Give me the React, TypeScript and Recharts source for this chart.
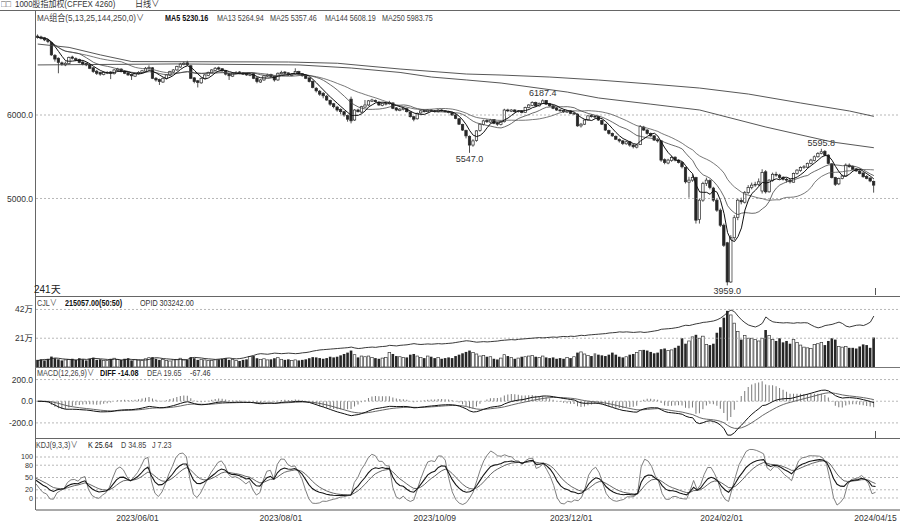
import React from 'react';
import { ComposedChart, Bar, Line, XAxis, YAxis, ReferenceLine } from 'recharts';

const FONT = '"Liberation Sans", "Noto Sans CJK SC", "DejaVu Sans", sans-serif';

// ---- daily candles (241 days) ----
const opens = [
  6945, 6935, 6925, 6895, 6870, 6715, 6680, 6625, 6600, 6615,
  6695, 6675, 6665, 6635, 6620, 6600, 6565, 6525, 6510, 6485,
  6505, 6515, 6495, 6535, 6550, 6525, 6505, 6485, 6465, 6495,
  6510, 6525, 6555, 6565, 6440, 6425, 6395, 6435, 6475, 6515,
  6540, 6575, 6605, 6625, 6590, 6445, 6410, 6385, 6440, 6475,
  6505, 6535, 6565, 6555, 6530, 6495, 6465, 6495, 6515, 6505,
  6495, 6475, 6495, 6445, 6395, 6420, 6465, 6485, 6465, 6420,
  6495, 6515, 6505, 6475, 6490, 6520, 6495, 6475, 6445, 6405,
  6320, 6285, 6260, 6225, 6175, 6135, 6095, 6065, 6040, 5995,
  6190, 5940, 6060, 6035, 6095, 6120, 6165, 6175, 6155, 6115,
  6130, 6135, 6145, 6085, 6055, 6065, 6075, 6035, 5980, 5955,
  6025, 6055, 6040, 6060, 6050, 6040, 6060, 6050, 6040, 6030,
  6000, 5955, 5885, 5815, 5745, 5640, 5695, 5815, 5885, 5935,
  5915, 5945, 5905, 5885, 5920, 6060, 6045, 6060, 6040, 6050,
  6030, 6090, 6115, 6150, 6110, 6140, 6175, 6135, 6110, 6085,
  6060, 6055, 6035, 6050, 6015, 6010, 5870, 5890, 5940, 5995,
  5985, 5985, 5935, 5890, 5815, 5780, 5745, 5705, 5690, 5655,
  5680, 5640, 5615, 5645, 5855, 5820, 5780, 5750, 5700, 5690,
  5465, 5425, 5455, 5495, 5460, 5430, 5370, 5195, 5220, 5250,
  4750, 4980, 5180, 5215, 5125, 4980, 4860, 4680, 4470, 4000,
  4530, 4775, 4975, 4955, 5070, 5130, 5165, 5170, 5090, 5320,
  5080, 5215, 5290, 5280, 5250, 5230, 5220, 5195, 5300, 5335,
  5370, 5375, 5420, 5455, 5500, 5540, 5565, 5520, 5415, 5250,
  5175, 5240, 5270, 5400, 5385, 5355, 5330, 5305, 5265, 5245,
  5205,
];
const highs = [
  6965, 6950, 6935, 6910, 6880, 6730, 6690, 6640, 6640, 6700,
  6710, 6690, 6675, 6645, 6630, 6610, 6575, 6540, 6520, 6525,
  6525, 6525, 6550, 6565, 6560, 6535, 6515, 6495, 6510, 6525,
  6540, 6575, 6595, 6575, 6455, 6435, 6450, 6490, 6530, 6550,
  6590, 6625, 6640, 6650, 6600, 6455, 6420, 6450, 6490, 6520,
  6550, 6575, 6580, 6560, 6535, 6500, 6510, 6525, 6525, 6515,
  6505, 6500, 6505, 6450, 6430, 6480, 6495, 6495, 6470, 6510,
  6530, 6525, 6510, 6500, 6560, 6530, 6500, 6480, 6450, 6410,
  6335, 6300, 6275, 6240, 6185, 6145, 6110, 6080, 6050, 6005,
  6220, 6070, 6075, 6110, 6180, 6180, 6195, 6185, 6165, 6150,
  6155, 6170, 6150, 6095, 6085, 6095, 6085, 6045, 5990, 6030,
  6060, 6065, 6070, 6070, 6060, 6070, 6070, 6060, 6050, 6040,
  6010, 5965, 5895, 5825, 5755, 5710, 5820, 5900, 5945, 5950,
  5955, 5950, 5915, 5930, 6075, 6075, 6070, 6070, 6060, 6060,
  6100, 6130, 6165, 6160, 6150, 6187.4, 6180, 6145, 6120, 6095,
  6075, 6065, 6060, 6060, 6035, 6020, 5905, 5950, 6000, 6010,
  6000, 5990, 5945, 5895, 5825, 5790, 5755, 5720, 5700, 5695,
  5690, 5655, 5655, 5880, 5870, 5830, 5790, 5760, 5720, 5700,
  5480, 5475, 5510, 5505, 5470, 5440, 5380, 5260, 5290, 5260,
  5000, 5200, 5250, 5230, 5140, 5000, 4880, 4700, 4480, 4560,
  4800, 5000, 5010, 5090, 5160, 5190, 5200, 5240, 5350, 5340,
  5230, 5310, 5320, 5295, 5265, 5245, 5235, 5310, 5350, 5385,
  5400, 5430, 5475, 5515, 5555, 5595.8, 5580, 5530, 5425, 5260,
  5250, 5285, 5420, 5420, 5395, 5365, 5340, 5315, 5280, 5255,
  5215,
];
const lows = [
  6915, 6905, 6885, 6860, 6710, 6640, 6500, 6590, 6585, 6605,
  6665, 6645, 6620, 6595, 6585, 6550, 6505, 6480, 6470, 6475,
  6490, 6430, 6485, 6525, 6510, 6490, 6470, 6420, 6455, 6485,
  6500, 6515, 6545, 6430, 6400, 6360, 6385, 6425, 6465, 6505,
  6530, 6565, 6595, 6590, 6430, 6380, 6330, 6375, 6430, 6465,
  6500, 6530, 6540, 6520, 6475, 6420, 6455, 6490, 6490, 6480,
  6470, 6465, 6430, 6380, 6385, 6410, 6455, 6450, 6400, 6410,
  6485, 6490, 6470, 6465, 6480, 6480, 6460, 6430, 6390, 6320,
  6270, 6230, 6200, 6170, 6110, 6080, 6040, 6010, 5980, 5920,
  5900, 5930, 6030, 6025, 6085, 6110, 6155, 6150, 6110, 6105,
  6115, 6125, 6070, 6045, 6045, 6055, 6030, 5970, 5925, 5945,
  6015, 6030, 6030, 6040, 6030, 6030, 6040, 6030, 6020, 5990,
  5950, 5880, 5810, 5720, 5547, 5620, 5680, 5800, 5875, 5905,
  5900, 5890, 5870, 5875, 5910, 6035, 6035, 6030, 6030, 6020,
  6025, 6080, 6105, 6100, 6100, 6135, 6120, 6100, 6070, 6050,
  6040, 6025, 6025, 6010, 6000, 5860, 5850, 5880, 5935, 5970,
  5960, 5930, 5880, 5810, 5765, 5740, 5700, 5670, 5640, 5645,
  5620, 5600, 5600, 5640, 5810, 5765, 5740, 5690, 5670, 5440,
  5410, 5410, 5440, 5445, 5420, 5360, 5180, 5010, 5200, 4700,
  4700, 4960, 5150, 5110, 4960, 4840, 4660, 4420, 3959, 3990,
  4500, 4740, 4930, 4940, 5050, 5110, 5140, 5150, 5060, 5060,
  5070, 5200, 5260, 5230, 5215, 5190, 5180, 5190, 5285, 5320,
  5355, 5365, 5410, 5445, 5490, 5530, 5505, 5410, 5240, 5150,
  5160, 5230, 5265, 5370, 5340, 5320, 5290, 5250, 5230, 5195,
  5070,
];
const closes = [
  6930, 6920, 6900, 6880, 6720, 6670, 6630, 6610, 6620, 6690,
  6680, 6660, 6630, 6610, 6600, 6560, 6520, 6500, 6490, 6510,
  6510, 6500, 6540, 6550, 6520, 6500, 6480, 6470, 6500, 6510,
  6530, 6560, 6570, 6440, 6420, 6400, 6440, 6480, 6520, 6540,
  6580, 6610, 6620, 6600, 6440, 6400, 6390, 6440, 6480, 6510,
  6540, 6560, 6550, 6530, 6490, 6470, 6500, 6510, 6500, 6490,
  6480, 6490, 6440, 6400, 6420, 6470, 6480, 6460, 6420, 6500,
  6510, 6500, 6480, 6490, 6520, 6490, 6470, 6440, 6400, 6330,
  6290, 6250, 6230, 6180, 6130, 6100, 6060, 6040, 6000, 5950,
  5930, 6060, 6040, 6100, 6120, 6170, 6180, 6160, 6120, 6140,
  6140, 6150, 6080, 6060, 6070, 6080, 6040, 5980, 5950, 6020,
  6050, 6040, 6060, 6050, 6040, 6060, 6050, 6040, 6030, 6000,
  5960, 5890, 5820, 5750, 5640, 5690, 5810, 5890, 5930, 5920,
  5940, 5900, 5890, 5920, 6060, 6050, 6060, 6040, 6050, 6030,
  6090, 6120, 6150, 6110, 6140, 6170, 6130, 6110, 6080, 6060,
  6050, 6040, 6050, 6020, 6020, 5870, 5890, 5940, 5990, 5980,
  5980, 5940, 5890, 5820, 5780, 5750, 5710, 5690, 5660, 5680,
  5640, 5620, 5640, 5860, 5820, 5780, 5750, 5700, 5690, 5460,
  5430, 5460, 5490, 5460, 5430, 5380, 5200, 5220, 5250, 4740,
  4980, 5180, 5220, 5130, 4980, 4860, 4680, 4440, 4000, 4530,
  4770, 4980, 4960, 5070, 5130, 5160, 5170, 5200, 5310, 5080,
  5220, 5290, 5280, 5250, 5230, 5220, 5200, 5300, 5340, 5370,
  5380, 5420, 5460, 5500, 5540, 5560, 5520, 5420, 5250, 5170,
  5240, 5270, 5400, 5380, 5350, 5330, 5300, 5260, 5240, 5210,
  5160,
];
// volume in 万 (10k lots)
const volumeWan = [
  5.2, 5.6, 4.8, 6.0, 7.6, 6.4, 5.6, 4.8, 5.2, 5.6,
  6.0, 5.2, 6.4, 5.6, 4.8, 6.0, 6.8, 5.2, 5.6, 4.8,
  4.8, 6.0, 6.4, 5.6, 5.2, 6.0, 6.4, 4.8, 5.6, 5.2,
  4.8, 6.0, 6.8, 7.2, 6.0, 5.2, 5.6, 4.8, 4.4, 5.2,
  5.6, 6.4, 5.6, 5.2, 7.2, 6.4, 5.2, 5.6, 5.2, 4.8,
  4.8, 5.2, 5.6, 6.0, 6.4, 5.2, 5.6, 4.8, 4.4, 5.2,
  5.6, 7.6, 8.0, 6.4, 5.6, 6.0, 5.2, 5.6, 6.4, 6.8,
  5.6, 5.2, 5.6, 4.8, 5.2, 4.8, 5.2, 5.6, 6.4, 7.2,
  7.0, 6.5, 6.0, 6.5, 7.5, 7.0, 7.5, 8.5, 9.5, 10.5,
  12.0, 9.0, 7.0, 8.0, 7.5, 8.0, 7.0, 6.5, 6.0, 6.5,
  7.0, 10.5, 9.5, 8.0, 7.5, 7.0, 7.0, 9.0, 9.5, 8.0,
  7.0, 6.5, 8.0, 7.5, 6.5, 7.0, 6.0, 6.5, 7.0, 6.5,
  8.0, 9.0, 10.0, 11.0, 12.0, 10.5, 9.5, 8.0, 8.5, 7.5,
  7.5, 6.0, 5.5, 6.5, 9.0, 8.0, 7.0, 6.0, 6.5, 7.5,
  7.5, 8.0, 8.5, 7.5, 7.0, 8.0, 7.0, 6.5, 7.0, 6.0,
  6.5, 6.0, 7.0, 6.5, 7.5, 10.5, 11.0, 9.5, 8.5, 8.0,
  10.0, 9.0, 8.5, 8.0, 9.0, 10.5, 9.0, 7.5, 7.0, 7.5,
  9.0, 9.5, 10.5, 12.0, 12.5, 12.0, 11.0, 10.0, 10.5, 13.0,
  13.5, 12.0, 12.5, 14.0, 15.5, 21.0, 17.0, 19.0, 22.0, 23.5,
  21.0, 22.5, 16.5, 16.0, 17.0, 25.0, 29.0, 36.0, 41.0, 38.0,
  32.0, 26.0, 20.0, 23.0, 21.0, 21.0, 20.0, 19.0, 21.0, 27.0,
  23.0, 20.0, 19.0, 21.0, 18.0, 19.0, 17.0, 20.0, 18.0, 16.0,
  14.5, 14.0, 13.5, 16.5, 17.0, 18.0, 16.0, 19.0, 21.0, 20.0,
  15.0, 14.5, 15.0, 14.0, 14.0, 13.5, 15.0, 16.5, 16.0, 14.0,
  21.5057,
];
// open interest in thousands
const openInterestK = [
  148, 150, 152, 151, 155, 157, 156, 154, 153, 152,
  151, 150, 152, 153, 152, 154, 156, 155, 154, 153,
  152, 151, 153, 152, 150, 151, 153, 152, 151, 150,
  151, 150, 152, 156, 158, 157, 155, 154, 153, 152,
  151, 152, 150, 152, 157, 159, 158, 157, 155, 154,
  153, 152, 153, 154, 156, 157, 155, 154, 155, 157,
  160, 163, 166, 170, 172, 171, 170, 172, 174, 173,
  172, 173, 174, 173, 172, 173, 175, 176, 178, 181,
  183, 185, 186, 187, 188, 189, 190, 191, 192, 193,
  195, 192, 190, 191, 193, 194, 195, 194, 196, 197,
  198, 201, 200, 199, 201, 202, 203, 205, 207, 205,
  204, 205, 206, 205, 206, 207, 206, 207, 208, 209,
  211, 213, 215, 217, 216, 214, 212, 213, 214, 213,
  214, 215, 216, 218, 219, 220, 221, 220, 222, 223,
  224, 225, 226, 227, 228, 227, 228, 229, 230, 229,
  231, 232, 231, 233, 232, 234, 236, 235, 237, 238,
  239, 240, 241, 242, 244, 245, 246, 248, 247, 248,
  247, 246, 247, 248, 246, 247, 249, 251, 253, 257,
  258, 259, 260, 262, 264, 268, 271, 270, 273, 276,
  278, 281, 282, 284, 286, 290, 296, 305, 316, 324,
  318, 303, 290, 280, 272, 268, 265, 270, 278, 300,
  290, 283, 281, 280, 279, 280, 279, 278, 280, 279,
  280, 279, 272, 266, 262, 265, 270, 272, 274, 278,
  282, 277, 268, 265, 268, 271, 272, 270, 275, 282,
  303.242,
];
// long moving averages: [day index, value]
const ma144Points = [
  [0, 6600], [40, 6612], [75, 6600], [90, 6563],
  [104, 6510], [113, 6455], [123, 6420], [133, 6383], [152, 6275], [161, 6204],
  [176, 6130], [190, 6060], [209, 5856], [228, 5677], [240, 5608.19],
];
const ma250Points = [
  [0, 6850], [9, 6810], [18, 6720], [27, 6640], [72, 6635], [86, 6620], [104, 6551],
  [123, 6491], [133, 6479], [147, 6455], [161, 6419], [176, 6371], [190, 6323],
  [204, 6251], [219, 6144], [233, 6048], [240, 5983.75],
];
const tickIndex = [29, 70, 114, 153, 196, 240];
const tickLabels = ['2023/06/01', '2023/08/01', '2023/10/09', '2023/12/01', '2024/02/01', '2024/04/15'];
const kdjTicks = [0, 20, 50, 80, 100];
const extremes = [
  { i: 124, side: 'low' },
  { i: 145, side: 'high' },
  { i: 198, side: 'low' },
  { i: 225, side: 'high' },
];

const SLOTS = 248;
const N = closes.length;

function sma(a: number[], n: number) {
  return a.map((_, i) => {
    const s = Math.max(0, i - n + 1);
    let t = 0;
    for (let k = s; k <= i; k++) t += a[k];
    return t / (i - s + 1);
  });
}
function ema(a: number[], n: number) {
  const al = 2 / (n + 1);
  const out: number[] = [];
  a.forEach((v, i) => out.push(i === 0 ? v : al * v + (1 - al) * out[i - 1]));
  return out;
}
const ma5 = sma(closes, 5);
const ma13 = sma(closes, 13);
const ma25 = sma(closes, 25);
const e12 = ema(closes, 12);
const e26 = ema(closes, 26);
const diff = closes.map((_, i) => e12[i] - e26[i]);
const dea = ema(diff, 9);
const hist = diff.map((d, i) => 2 * (d - dea[i]));
const kArr: number[] = [];
const dArr: number[] = [];
const jArr: number[] = [];
{
  let K = 50, D = 50;
  for (let i = 0; i < N; i++) {
    const s = Math.max(0, i - 8);
    let hh = -Infinity, ll = Infinity;
    for (let k = s; k <= i; k++) { hh = Math.max(hh, highs[k]); ll = Math.min(ll, lows[k]); }
    const rsv = hh === ll ? 50 : ((closes[i] - ll) / (hh - ll)) * 100;
    K = (2 * K + rsv) / 3;
    D = (2 * D + K) / 3;
    kArr.push(K); dArr.push(D); jArr.push(3 * K - 2 * D);
  }
}
const m144 = new Map(ma144Points.map((p) => [p[0], p[1]]));
const m250 = new Map(ma250Points.map((p) => [p[0], p[1]]));
const noteMap = new Map(extremes.map((e) => [e.i, e.side]));

const rows = Array.from({ length: SLOTS }, (_, i) => {
  if (i >= N) return { i };
  return {
    i,
    o: opens[i], h: highs[i], l: lows[i], c: closes[i],
    pc: i > 0 ? closes[i - 1] : opens[i],
    range: [lows[i], highs[i]],
    ma5: ma5[i], ma13: ma13[i], ma25: ma25[i],
    ma144: m144.has(i) ? m144.get(i) : null,
    ma250: m250.has(i) ? m250.get(i) : null,
    vol: volumeWan[i] * 10000,
    oi: openInterestK[i] * 1000,
    diff: diff[i], dea: dea[i], macd: hist[i],
    k: kArr[i], d: dArr[i], j: jArr[i],
    note: noteMap.get(i),
  };
});

const DARK = '#262626';

const renderCandle = (props: any) => {
  const { x, y, width, height } = props;
  const p = props.payload || props;
  if (!p || p.c == null || !isFinite(y) || !isFinite(height)) return <g />;
  const span = p.h - p.l || 1;
  const py = (v: number) => y + ((p.h - v) / span) * height;
  const cx = x + width / 2;
  const up = p.c >= p.o;
  const top = py(Math.max(p.o, p.c));
  const bot = py(Math.min(p.o, p.c));
  const bh = Math.max(bot - top, 0.8);
  const bw = 2.4;
  return (
    <g>
      <line x1={cx} x2={cx} y1={y} y2={top} stroke={DARK} strokeWidth={0.8} />
      <line x1={cx} x2={cx} y1={top + bh} y2={y + height} stroke={DARK} strokeWidth={0.8} />
      <rect x={cx - bw / 2} y={top} width={bw} height={bh} fill={up ? '#ffffff' : DARK} stroke={DARK} strokeWidth={0.7} />
      {p.note === 'high' && (
        <text x={cx} y={y - 3} textAnchor="middle" fontSize={9} fill="#333" fontFamily={FONT}>{p.h.toFixed(1)}</text>
      )}
      {p.note === 'low' && (
        <text x={cx} y={y + height + 9} textAnchor="middle" fontSize={9} fill="#333" fontFamily={FONT}>{p.l.toFixed(1)}</text>
      )}
    </g>
  );
};

const renderVol = (props: any) => {
  const { x, y, width, height } = props;
  const p = props.payload || props;
  if (!p || p.vol == null || !isFinite(y) || !isFinite(height)) return <g />;
  const up = p.c >= p.o;
  const rising = p.c >= p.pc;
  const bw = 2.6;
  const cx = x + width / 2;
  let fill = DARK;
  let stroke = 'none';
  if (up && rising) { fill = '#ffffff'; stroke = '#3a3a3a'; }
  else if (up || rising) { fill = '#7a7a7a'; }
  return (
    <rect x={cx - bw / 2} y={y} width={bw} height={Math.max(height, 0.5)}
      fill={fill} stroke={stroke} strokeWidth={0.7} />
  );
};

const renderDateTick = (props: any) => {
  const { x, y, payload } = props;
  const idx = tickIndex.indexOf(Number(payload && payload.value));
  if (idx < 0) return <g />;
  return (
    <text x={x} y={y + 11} textAnchor="middle" fontSize={8.5} fill="#333" fontFamily={FONT}>{tickLabels[idx]}</text>
  );
};

// small nudges so the crowded KDJ labels sit like the reference
const kdjNudge: Record<number, number> = { 100: -0.6, 80: 0.4, 50: 0, 20: -0.7, 0: 0.7 };
const renderKdjTick = (props: any) => {
  const { x, y, payload } = props;
  const v = Number(payload && payload.value);
  return (
    <text x={x} y={y + (kdjNudge[v] || 0)} dy="0.355em" textAnchor="end" fontSize={7.2} fill="#333" fontFamily={FONT}>{String(v)}</text>
  );
};

const tickStyle = { fontSize: 8.5, fill: '#333', fontFamily: FONT };
const GRID = { stroke: '#9a9a9a', strokeDasharray: '2 2', strokeWidth: 0.7 };

const Txt = ({ x, y, children, bold = false, size = 9, color = '#333', sx = 0.8 }: any) => (
  <div style={{
    position: 'absolute', left: x, top: y, fontSize: size, lineHeight: `${size + 2}px`,
    fontFamily: FONT, fontWeight: bold ? 700 : 400, color, whiteSpace: 'nowrap',
    transform: `scaleX(${sx})`, transformOrigin: '0 0',
  }}>{children}</div>
);

const HLine = ({ x, y, w, c = '#555' }: any) => (
  <div style={{ position: 'absolute', left: x, top: y, width: w, height: 1, background: c }} />
);
const VLine = ({ x, y, h, c = '#555' }: any) => (
  <div style={{ position: 'absolute', left: x, top: y, width: 1, height: h, background: c }} />
);

export default function App() {
  return (
    <div style={{ position: 'relative', width: 900, height: 523, background: '#fff', overflow: 'hidden' }}>
      <style>{'body{margin:0;background:#fff;}'}</style>

      {/* main price panel */}
      <div style={{ position: 'absolute', left: 0, top: 10 }}>
        <ComposedChart width={900} height={286} data={rows} margin={{ top: 2, right: 0, bottom: 1, left: 0 }} barCategoryGap={0} barGap={0}>
          <XAxis dataKey="i" hide />
          <YAxis width={36} domain={[3844, 7234]} allowDataOverflow ticks={[5000, 6000]} interval={0}
            tickFormatter={(v: any) => Number(v).toFixed(1)} axisLine={false} tickLine={false}
            tickSize={2} tickMargin={1} tick={tickStyle} />
          <ReferenceLine y={6000} {...GRID} />
          <ReferenceLine y={5000} {...GRID} />
          <Bar dataKey="range" barSize={3} shape={renderCandle} isAnimationActive={false} />
          <Line dataKey="ma250" connectNulls stroke="#444" strokeWidth={0.9} dot={false} activeDot={false} isAnimationActive={false} />
          <Line dataKey="ma144" connectNulls stroke="#444" strokeWidth={0.9} dot={false} activeDot={false} isAnimationActive={false} />
          <Line dataKey="ma25" stroke="#555" strokeWidth={0.8} dot={false} activeDot={false} isAnimationActive={false} />
          <Line dataKey="ma13" stroke="#444" strokeWidth={0.8} dot={false} activeDot={false} isAnimationActive={false} />
          <Line dataKey="ma5" stroke="#111" strokeWidth={1} dot={false} activeDot={false} isAnimationActive={false} />
        </ComposedChart>
      </div>

      {/* volume + open interest */}
      <div style={{ position: 'absolute', left: 0, top: 296 }}>
        <ComposedChart width={900} height={72} data={rows} margin={{ top: 2, right: 0, bottom: 1, left: 0 }} barCategoryGap={0} barGap={0}>
          <XAxis dataKey="i" hide />
          <YAxis yAxisId="v" width={36} domain={[0, 503700]} allowDataOverflow ticks={[210000, 420000]} interval={0}
            tickFormatter={(v: any) => `${Number(v) / 10000}万`} axisLine={false} tickLine={false}
            tickSize={2} tickMargin={1} tick={tickStyle} />
          <YAxis yAxisId="oi" orientation="right" hide domain={[125620, 365947]} allowDataOverflow />
          <ReferenceLine yAxisId="v" y={210000} {...GRID} />
          <ReferenceLine yAxisId="v" y={420000} {...GRID} />
          <Bar yAxisId="v" dataKey="vol" barSize={3} shape={renderVol} isAnimationActive={false} />
          <Line yAxisId="oi" dataKey="oi" stroke="#222" strokeWidth={0.9} dot={false} activeDot={false} isAnimationActive={false} />
        </ComposedChart>
      </div>

      {/* MACD */}
      <div style={{ position: 'absolute', left: 0, top: 368 }}>
        <ComposedChart width={900} height={70} data={rows} margin={{ top: 2, right: 0, bottom: 1, left: 0 }} barCategoryGap={0} barGap={0}>
          <XAxis dataKey="i" hide />
          <YAxis width={36} domain={[-330, 288]} allowDataOverflow ticks={[-200, 0, 200]} interval={0}
            tickFormatter={(v: any) => Number(v).toFixed(1)} axisLine={false} tickLine={false}
            tickSize={2} tickMargin={1} tick={tickStyle} />
          <ReferenceLine y={200} {...GRID} />
          <ReferenceLine y={0} {...GRID} />
          <ReferenceLine y={-200} {...GRID} />
          <Bar dataKey="macd" barSize={1} fill="#7a7a7a" isAnimationActive={false} />
          <Line dataKey="dea" stroke="#555" strokeWidth={0.9} dot={false} activeDot={false} isAnimationActive={false} />
          <Line dataKey="diff" stroke="#111" strokeWidth={1} dot={false} activeDot={false} isAnimationActive={false} />
        </ComposedChart>
      </div>

      {/* KDJ + date axis */}
      <div style={{ position: 'absolute', left: 0, top: 438 }}>
        <ComposedChart width={900} height={85} data={rows} margin={{ top: 2, right: 0, bottom: 0, left: 0 }} barCategoryGap={0} barGap={0}>
          <XAxis dataKey="i" height={13} interval={0} tickLine={false} tickSize={0} tickMargin={0}
            axisLine={{ stroke: '#555' }} tick={renderDateTick} />
          <YAxis width={36} domain={[-29.3, 141.5]} allowDataOverflow ticks={kdjTicks} interval={0}
            axisLine={false} tickLine={false} tickSize={2} tickMargin={1} tick={renderKdjTick} />
          <ReferenceLine y={100} {...GRID} />
          <ReferenceLine y={80} {...GRID} />
          <ReferenceLine y={50} {...GRID} />
          <ReferenceLine y={20} {...GRID} />
          <ReferenceLine y={0} {...GRID} />
          <Line dataKey="j" stroke="#707070" strokeWidth={0.9} dot={false} activeDot={false} isAnimationActive={false} />
          <Line dataKey="d" stroke="#555" strokeWidth={0.9} dot={false} activeDot={false} isAnimationActive={false} />
          <Line dataKey="k" stroke="#151515" strokeWidth={1.1} dot={false} activeDot={false} isAnimationActive={false} />
        </ComposedChart>
      </div>

      {/* frame lines */}
      <HLine x={0} y={10} w={900} c="#666" />
      <VLine x={35} y={10} h={500} c="#666" />
      <HLine x={35} y={296} w={865} c="#666" />
      <HLine x={35} y={367} w={865} c="#777" />
      <HLine x={35} y={438} w={865} c="#666" />
      <VLine x={875} y={288} h={7} c="#555" />
      <VLine x={875} y={431} h={7} c="#555" />

      {/* title row */}
      <Txt x={1} y={-1} color="#555" sx={0.9}>□□</Txt>
      <Txt x={15} y={-1} sx={0.88}>1000股指加权(CFFEX 4260)</Txt>
      <Txt x={135} y={-1} sx={0.9}>日线∨</Txt>

      {/* main legend */}
      <Txt x={37} y={13} color="#444" sx={0.9}>MA组合(5,13,25,144,250,0)∨</Txt>
      <Txt x={165} y={13} bold color="#111">MA5 5230.16</Txt>
      <Txt x={217} y={13} color="#444">MA13 5264.94</Txt>
      <Txt x={270} y={13} color="#444">MA25 5357.46</Txt>
      <Txt x={325} y={13} color="#444">MA144 5608.19</Txt>
      <Txt x={382} y={13} color="#444">MA250 5983.75</Txt>
      <Txt x={34} y={284} size={10} color="#222" sx={1}>241天</Txt>

      {/* volume legend */}
      <Txt x={37} y={298} color="#444">CJL∨</Txt>
      <Txt x={65} y={298} bold color="#111">215057.00(50:50)</Txt>
      <Txt x={140} y={298} color="#333">OPID 303242.00</Txt>

      {/* macd legend */}
      <Txt x={37} y={368} color="#444">MACD(12,26,9)∨</Txt>
      <Txt x={100} y={368} bold color="#111">DIFF -14.08</Txt>
      <Txt x={147} y={368} color="#444">DEA 19.65</Txt>
      <Txt x={190} y={368} color="#333">-67.46</Txt>

      {/* kdj legend */}
      <Txt x={36} y={440} color="#444">KDJ(9,3,3)∨</Txt>
      <Txt x={88} y={440} color="#111">K 25.64</Txt>
      <Txt x={121} y={440} color="#444">D 34.85</Txt>
      <Txt x={152} y={440} color="#444">J 7.23</Txt>
    </div>
  );
}
